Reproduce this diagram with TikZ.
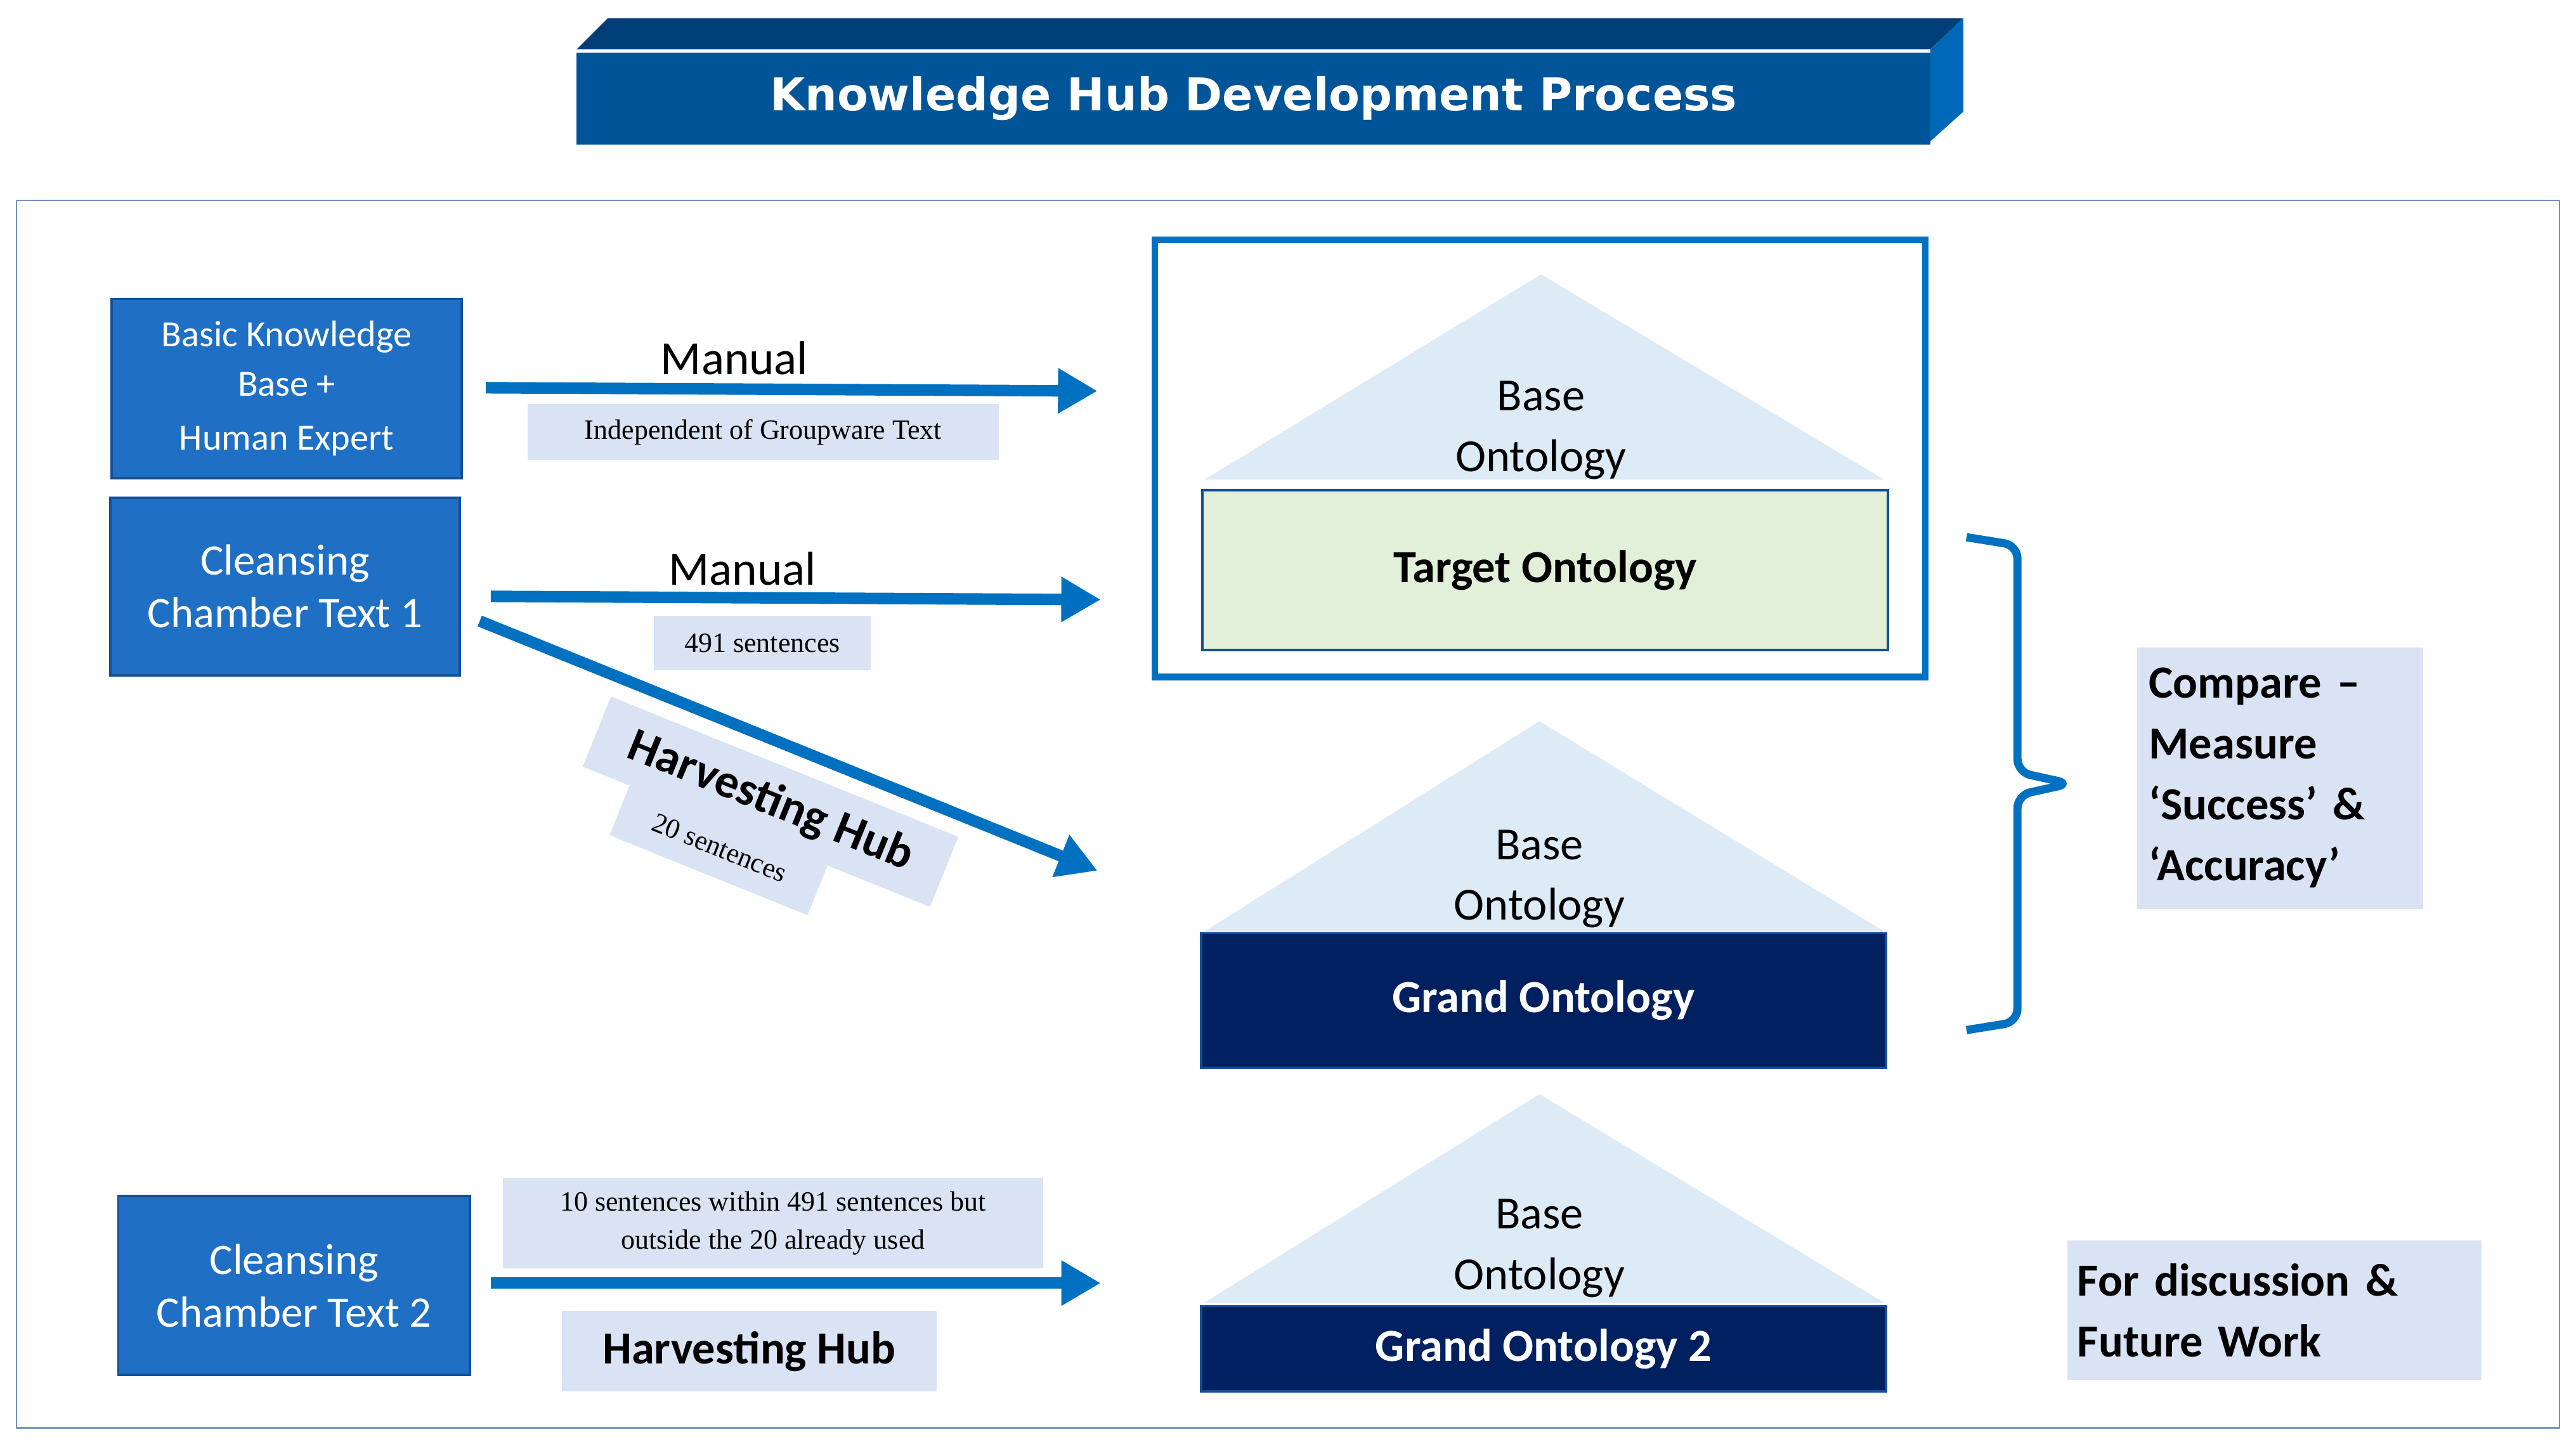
\documentclass[tikz,border=0pt]{standalone}
\usepackage{fontspec}
\setmainfont{Carlito}
\newfontfamily\serif{Liberation Serif}
\newfontfamily\titlef{DejaVu Sans}
\usetikzlibrary{arrows.meta}
\definecolor{boxblue}{RGB}{31,112,196}
\definecolor{boxedge}{RGB}{20,80,150}
\definecolor{arr}{RGB}{0,112,192}
\definecolor{lab}{RGB}{218,227,243}
\definecolor{tri}{RGB}{221,235,247}
\definecolor{tgt}{RGB}{226,240,217}
\definecolor{navy}{RGB}{0,32,96}
\definecolor{tfront}{RGB}{0,84,152}
\definecolor{ttop}{RGB}{0,62,120}
\definecolor{tside}{RGB}{0,104,184}
\begin{document}
\begin{tikzpicture}[x=1pt,y=-1pt,
  src/.style={draw=boxedge,line width=1.5pt,fill=boxblue,text=white,align=center,inner sep=0pt},
  lbl/.style={fill=lab,align=center,inner sep=0pt},
  big/.style={line width=7pt,draw=arr,-{Triangle[length=24pt,width=26pt]}},
  tri/.style={fill=tri,draw=none},
  ont/.style={draw=boxedge,line width=1.5pt,inner sep=0pt,font=\fontsize{28}{32}\selectfont\bfseries}]
\useasboundingbox (0,0) rectangle (1568,878.6);
% title banner
\fill[ttop] (351,30) -- (370,11) -- (1195,11) -- (1175,30) -- cycle;
\fill[tside] (1175,30) -- (1195,11) -- (1195,68) -- (1175,86) -- cycle;
\node[fill=tfront,minimum width=824pt,minimum height=56pt,inner sep=0pt,text=white,font=\titlef\fontsize{27.5}{30}\selectfont\bfseries] (title) at (763,60) {Knowledge Hub Development Process};
% frame
\draw[draw=boxedge!60,line width=1pt] (10,122) rectangle (1558,869);
% sources
\node[src,minimum width=213pt,minimum height=109pt,font=\fontsize{22.5}{30}\selectfont] (bk) at (174.5,236.5) {Basic Knowledge\\Base +\\[3pt]Human Expert};
\node[src,minimum width=213pt,minimum height=108pt,font=\fontsize{26.5}{32}\selectfont] (c1) at (173.5,357) {Cleansing\\Chamber Text 1};
\node[src,minimum width=214pt,minimum height=109pt,font=\fontsize{26.5}{32}\selectfont] (c2) at (179,782.5) {Cleansing\\Chamber Text 2};
% targets
\draw[arr,line width=4pt] (703,146) rectangle (1172,412);
\fill[tri] (938,167) -- (1147,292) -- (733,292) -- cycle;
\node[align=center,font=\fontsize{28}{37}\selectfont] (b1) at (938,262) {Base\\Ontology};
\node[ont,fill=tgt,minimum width=417pt,minimum height=97pt] (to) at (940.5,347) {Target Ontology};
\fill[tri] (937,439) -- (1147,567) -- (733,567) -- cycle;
\node[align=center,font=\fontsize{28}{37}\selectfont] (b2) at (937,535) {Base\\Ontology};
\node[ont,fill=navy,text=white,minimum width=417pt,minimum height=82pt] (go) at (939.5,609) {Grand Ontology};
\fill[tri] (937,666) -- (1147,793) -- (733,793) -- cycle;
\node[align=center,font=\fontsize{28}{37}\selectfont] (b3) at (937,760) {Base\\Ontology};
\node[ont,fill=navy,text=white,minimum width=417pt,minimum height=52pt] (go2) at (939.5,821) {Grand Ontology 2};
% arrow endpoints
\coordinate (e1) at (668,238);
\coordinate (e2) at (670,365);
\coordinate (e3) at (668,530);
\coordinate (e4) at (670,781);
\draw[big] (bk.east |- 0,236) ++(14,0) -- (e1);
\draw[big] (c1.east |- 0,363) ++(18,0) -- (e2);
\draw[big] (c2.east |- 0,781) ++(12,0) -- (e4);
% labels
\node[font=\fontsize{29}{30}\selectfont] (m1) at (447,218) {Manual};
\node[lbl,minimum width=287pt,minimum height=34pt,font=\serif\fontsize{17}{19}\selectfont] (l1) at (464.5,263) {Independent of Groupware Text};
\node[font=\fontsize{29}{30}\selectfont] (m2) at (452,346) {Manual};
\node[lbl,minimum width=132pt,minimum height=33pt,font=\serif\fontsize{17}{19}\selectfont] (l2) at (464,391.5) {491 sentences};
\node[lbl,rotate=-22,minimum width=130pt,minimum height=36pt,font=\serif\fontsize{17}{19}\selectfont] (l3b) at (438,516) {20 sentences};
\node[lbl,rotate=-22,minimum width=228pt,minimum height=46pt,font=\fontsize{29}{30}\selectfont\bfseries] (l3) at (469,488) {Harvesting Hub};
\draw[big] (292,378) -- (e3);
\node[lbl,minimum width=329pt,minimum height=55pt,font=\serif\fontsize{17}{23}\selectfont] (l4) at (470.5,744.5) {10 sentences within 491 sentences but\\outside the 20 already used};
\node[lbl,minimum width=228pt,minimum height=49pt,font=\fontsize{28}{30}\selectfont\bfseries] (l5) at (456,822.5) {Harvesting Hub};
% brace
\draw[arr,line width=5pt,rounded corners=8pt] (1197,327) -- (1228,332) -- (1228,470) -- (1260,477) -- (1228,484) -- (1228,622) -- (1197,627);
\node[lbl,minimum width=174pt,minimum height=159pt,text width=160pt,inner xsep=7pt,align=left,font=\fontsize{28}{37}\selectfont\bfseries] (cmp) at (1388,473.5) {Compare --\\Measure\\‘Success’ \&\\‘Accuracy’};
\node[lbl,minimum width=251pt,minimum height=85pt,text width=240pt,inner xsep=6pt,align=left,font=\fontsize{28}{37}\selectfont\bfseries] (fd) at (1384.5,797.5) {For discussion \&\\Future Work};
\end{tikzpicture}
\end{document}
